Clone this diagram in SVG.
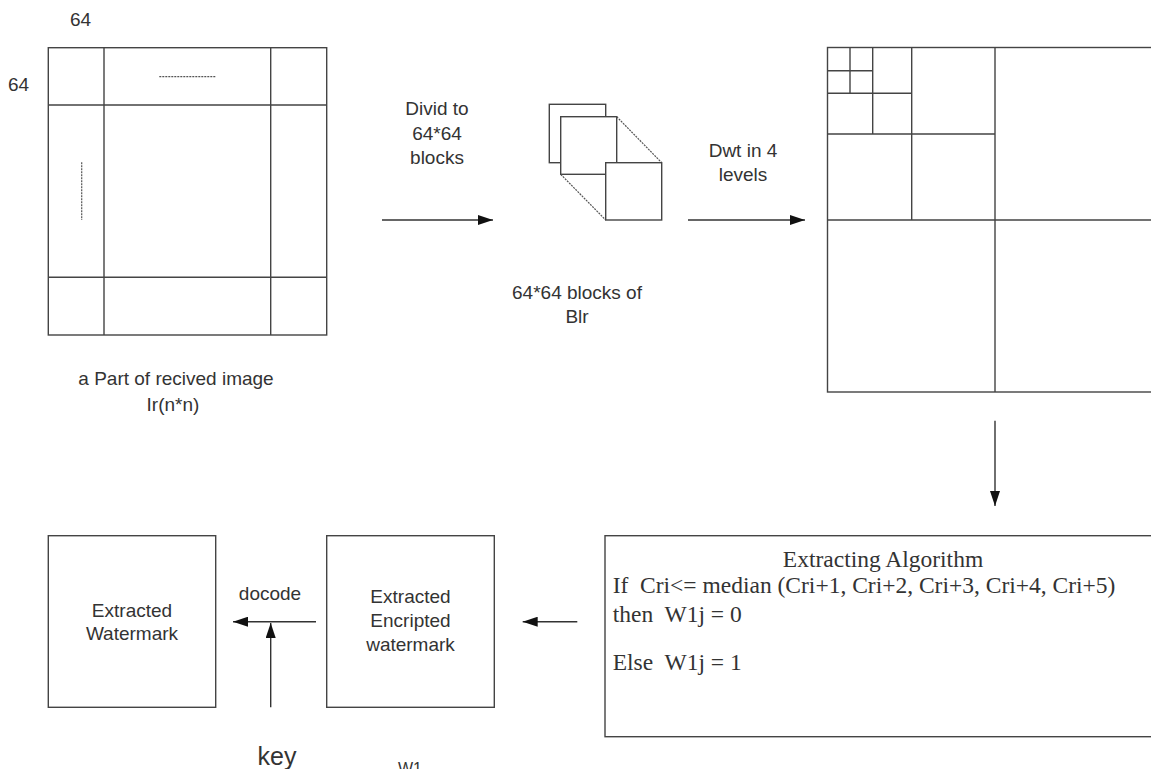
<svg xmlns="http://www.w3.org/2000/svg" width="1151" height="769" viewBox="0 0 1151 769">
<style>
.ln{fill:none;stroke:#444;stroke-width:1.4}
.bx{fill:#fff;stroke:#444;stroke-width:1.4}
.dot{fill:none;stroke:#555;stroke-width:1.2;stroke-dasharray:2 1}
.t{font-family:"Liberation Sans",Arial,sans-serif;font-size:19px;fill:#333}
.tc{text-anchor:middle}
.s{font-family:"Liberation Serif","Times New Roman",serif;font-size:23.5px;fill:#333}
.ar{fill:none;stroke:#333;stroke-width:1.4}
</style>
<defs>
<marker id="ah" markerUnits="userSpaceOnUse" markerWidth="16" markerHeight="10" refX="15" refY="5" orient="auto">
<path d="M0,0 L15,5 L0,10 Z" fill="#111"/>
</marker>
</defs>
<rect width="1151" height="769" fill="#fff"/>

<g id="image">
<rect class="bx" x="48.3" y="47.7" width="278.4" height="287.3"/>
<path class="ln" d="M104,47.7V335M270.7,47.7V335M48.3,105H326.7M48.3,277.3H326.7"/>
<path class="dot" d="M159.3,76.7H216M81.7,162.3V220"/>
<text class="t" x="70" y="26">64</text>
<text class="t" x="8" y="91">64</text>
<text class="t tc" x="176" y="385">a Part of recived image</text>
<text class="t tc" x="173" y="411">Ir(n*n)</text>
</g>

<g id="blocks">
<rect class="bx" x="549.3" y="104.3" width="56.4" height="58.4"/>
<rect class="bx" x="560.7" y="116.7" width="56" height="57.6"/>
<path class="dot" d="M616.7,116.7L661.7,162.7M560.7,174.3L605.7,220"/>
<rect class="bx" x="605.7" y="162.7" width="56" height="57.3"/>
<text class="t tc" x="577" y="299">64*64 blocks of</text>
<text class="t tc" x="577" y="323">Blr</text>
</g>

<g id="dwt">
<rect class="bx" x="827.5" y="47.5" width="340" height="344.5"/>
<path class="ln" d="M995,47.5V392M827.5,220H1168M911.7,47.5V220M827.5,134H995M872.7,47.5V134M827.5,93.3H911.7M850,47.5V93.3M827.5,70.7H872.7"/>
</g>

<g id="algorithm">
<rect class="bx" x="605" y="535.7" width="560" height="201"/>
<text class="s tc" x="883" y="566.7">Extracting Algorithm</text>
<text class="s" x="612.7" y="593.3" xml:space="preserve">If  Cri&lt;= median (Cri+1, Cri+2, Cri+3, Cri+4, Cri+5)</text>
<text class="s" x="612.7" y="621.7" xml:space="preserve">then  W1j = 0</text>
<text class="s" x="612.7" y="670" xml:space="preserve">Else  W1j = 1</text>
</g>

<g id="encrypted">
<rect class="bx" x="326.7" y="535.7" width="167.6" height="171.6"/>
<text class="t tc" x="410.5" y="603">Extracted</text>
<text class="t tc" x="410.5" y="627">Encripted</text>
<text class="t tc" x="410.5" y="651">watermark</text>
<text class="t tc" x="410" y="774" style="font-size:16px">W1</text>
</g>

<g id="watermark">
<rect class="bx" x="48.3" y="535.7" width="167.4" height="171.6"/>
<text class="t tc" x="132" y="617">Extracted</text>
<text class="t tc" x="132" y="640">Watermark</text>
</g>

<g id="connectors">
<path class="ar" d="M382,220H493" marker-end="url(#ah)"/>
<text class="t tc" x="437" y="115">Divid to</text>
<text class="t tc" x="437" y="140">64*64</text>
<text class="t tc" x="437" y="164">blocks</text>
<path class="ar" d="M688,220H805" marker-end="url(#ah)"/>
<text class="t tc" x="743" y="157">Dwt in 4</text>
<text class="t tc" x="743" y="181">levels</text>
<path class="ar" d="M995,420.7V506" marker-end="url(#ah)"/>
<path class="ar" d="M577.3,621.7H522.7" marker-end="url(#ah)"/>
<path class="ar" d="M316,621.7H233" marker-end="url(#ah)"/>
<text class="t tc" x="270" y="600">docode</text>
<path class="ar" d="M270.7,707.3V623" marker-end="url(#ah)"/>
<text class="t tc" x="277" y="765" style="font-size:25px">key</text>
</g>
</svg>
